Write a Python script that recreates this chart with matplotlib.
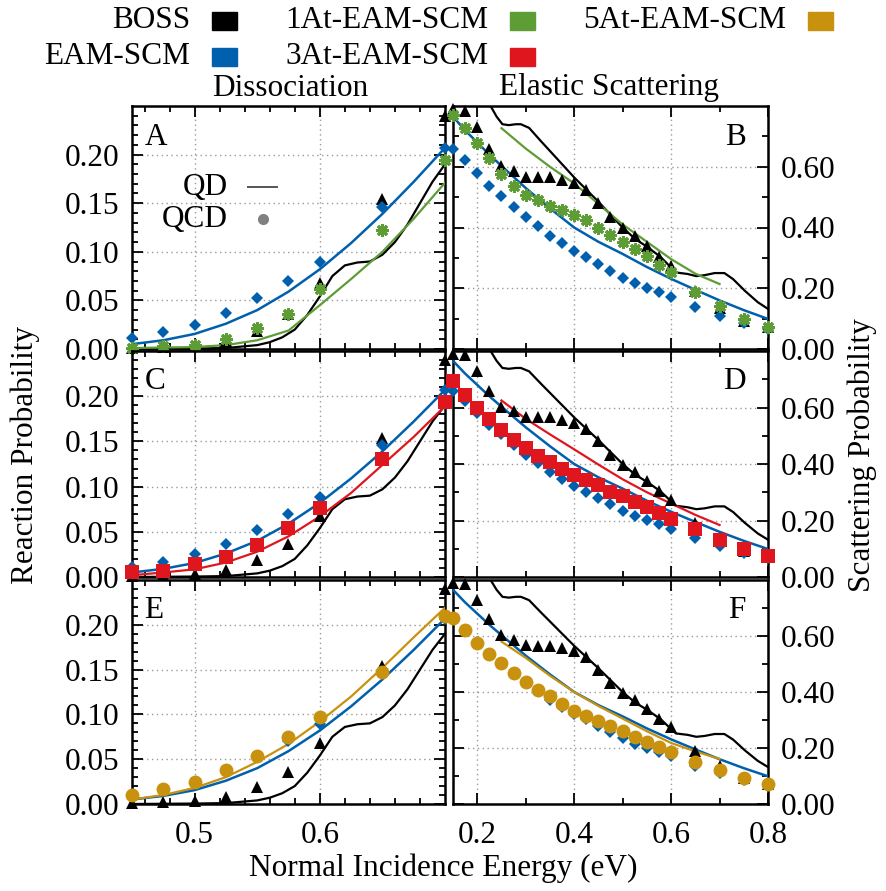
import matplotlib
matplotlib.use('Agg')
import matplotlib.pyplot as plt
from matplotlib.patches import Rectangle
from matplotlib.lines import Line2D

plt.rcParams['font.family'] = ['Liberation Serif', 'DejaVu Serif']
plt.rcParams['font.size'] = 22.5
plt.rcParams['mathtext.fontset'] = 'stix'

# ---------------- data ----------------
# dissociation (left column), QCD points
E_diss = [0.45, 0.475, 0.5, 0.525, 0.55, 0.575, 0.6, 0.65, 0.7]
boss_diss_qcd = [0.001, 0.002, 0.003, 0.008, 0.019, 0.036, 0.068, 0.154, 0.240]
eam_diss_qcd = [0.011, 0.017, 0.025, 0.037, 0.052, 0.070, 0.089, 0.146, 0.207]
at1_diss_qcd = [0.001, 0.003, 0.004, 0.010, 0.022, 0.036, 0.062, 0.122, 0.194]
at3_diss_qcd = [0.006, 0.007, 0.014, 0.022, 0.035, 0.054, 0.076, 0.131, 0.194]
at5_diss_qcd = [0.010, 0.017, 0.025, 0.038, 0.054, 0.075, 0.097, 0.147, 0.210]

# dissociation, QD curves
E_diss_qd = [0.45, 0.475, 0.5, 0.525, 0.55, 0.575, 0.6, 0.625, 0.65, 0.675, 0.7]
eam_diss_qd = [0.005, 0.009, 0.0155, 0.026, 0.040, 0.059, 0.082, 0.109, 0.139, 0.172, 0.207]
at1_diss_qd = [0.001, 0.0015, 0.002, 0.004, 0.009, 0.019, 0.045, 0.072, 0.100, 0.134, 0.171]
at3_diss_qd = [0.002, 0.005, 0.0085, 0.016, 0.028, 0.045, 0.067, 0.093, 0.124, 0.155, 0.189]
at5_diss_qd = [0.005, 0.010, 0.018, 0.030, 0.047, 0.067, 0.092, 0.120, 0.152, 0.186, 0.219]
E_boss_diss_qd = [0.45, 0.5, 0.525, 0.55, 0.56, 0.57, 0.58, 0.59, 0.6, 0.61, 0.62,
                  0.63, 0.64, 0.65, 0.66, 0.67, 0.68, 0.69, 0.7]
boss_diss_qd = [0.0, 0.0005, 0.001, 0.004, 0.007, 0.012, 0.020, 0.035, 0.054, 0.075, 0.086,
                0.089, 0.090, 0.097, 0.110, 0.128, 0.150, 0.172, 0.190]

# elastic scattering (right column), QCD points
E_scat = [0.15, 0.175, 0.2, 0.225, 0.25, 0.275, 0.3, 0.325, 0.35, 0.375, 0.4, 0.425,
          0.45, 0.475, 0.5, 0.525, 0.55, 0.575, 0.6, 0.65, 0.7, 0.75, 0.8]
boss_scat_qcd = [0.79, 0.785, 0.73, 0.66, 0.603, 0.587, 0.567, 0.565, 0.565, 0.556, 0.545, 0.524,
                 0.48, 0.433, 0.397, 0.371, 0.34, 0.304, 0.274, 0.19, 0.135, 0.092, 0.072]
eam_scat_qcd = [0.66, 0.623, 0.579, 0.537, 0.505, 0.466, 0.433, 0.404, 0.373, 0.348, 0.321, 0.302,
                0.28, 0.258, 0.234, 0.216, 0.201, 0.187, 0.17, 0.137, 0.11, 0.086, 0.066]
at1_scat_qcd = [0.77, 0.726, 0.677, 0.628, 0.576, 0.537, 0.508, 0.49, 0.472, 0.459, 0.441, 0.425,
                0.398, 0.376, 0.351, 0.329, 0.307, 0.276, 0.252, 0.189, 0.143, 0.099, 0.071]
at3_scat_qcd = [0.693, 0.645, 0.599, 0.56, 0.519, 0.484, 0.457, 0.428, 0.407, 0.383, 0.36, 0.342,
                0.325, 0.301, 0.287, 0.267, 0.248, 0.226, 0.207, 0.169, 0.13, 0.099, 0.073]
at5_scat_qcd = [0.664, 0.623, 0.576, 0.537, 0.502, 0.467, 0.437, 0.406, 0.386, 0.356, 0.333, 0.315,
                0.297, 0.279, 0.259, 0.24, 0.222, 0.203, 0.184, 0.151, 0.12, 0.092, 0.073]

# elastic scattering, QD curves
E_scat_qd = [0.15, 0.175, 0.2, 0.225, 0.25, 0.3, 0.35, 0.4, 0.45, 0.5, 0.55, 0.6, 0.65, 0.7, 0.75, 0.8]
eam_scat_qd = [0.765, 0.72, 0.68, 0.64, 0.603, 0.53, 0.463, 0.40, 0.353, 0.313, 0.27, 0.231,
               0.195, 0.16, 0.128, 0.099]
E_at_scat_qd = [0.25, 0.3, 0.35, 0.4, 0.45, 0.5, 0.55, 0.6, 0.65, 0.7]
at1_scat_qd = [0.727, 0.66, 0.60, 0.545, 0.478, 0.41, 0.353, 0.296, 0.248, 0.214]
at3_scat_qd = [0.625, 0.56, 0.505, 0.452, 0.398, 0.346, 0.30, 0.26, 0.22, 0.184]
at5_scat_qd = [0.58, 0.522, 0.458, 0.40, 0.35, 0.305, 0.26, 0.218, 0.188, 0.161]
E_boss_scat_qd = [0.2, 0.2276, 0.24, 0.252, 0.265, 0.28, 0.29, 0.307, 0.331, 0.35, 0.4, 0.45,
                  0.5, 0.526, 0.552, 0.579, 0.6, 0.61, 0.634, 0.652, 0.669, 0.69, 0.71, 0.728,
                  0.752, 0.779, 0.8]
boss_scat_qd = [0.88, 0.80, 0.765, 0.74, 0.737, 0.74, 0.74, 0.728, 0.685, 0.652, 0.565, 0.485,
                0.40, 0.362, 0.335, 0.302, 0.268, 0.252, 0.247, 0.24, 0.243, 0.25, 0.25, 0.23,
                0.192, 0.154, 0.132]

C_BOSS = '#000000'
C_EAM = '#0060ad'
C_AT1 = '#5e9c36'
C_AT3 = '#e0161f'
C_AT5 = '#c9920e'

styles = {
    'boss': dict(color=C_BOSS, marker='^', ms=8.5, mew=0),
    'eam': dict(color=C_EAM, marker='D', ms=6.5, mew=0),
    'at1': dict(color=C_AT1, marker=(8, 2, 0), ms=9, mew=2.2),
    'at3': dict(color=C_AT3, marker='s', ms=9.5, mew=0),
    'at5': dict(color=C_AT5, marker='o', ms=10, mew=0),
}

W, H = 887, 891


def rect(x0, x1, y0, y1):
    return [x0 / W, 1 - y1 / H, (x1 - x0) / W, (y1 - y0) / H]


fig = plt.figure(figsize=(W / 100, H / 100), dpi=100)

cols = [(132, 445), (453, 768)]
rows = [(106, 349), (351, 577), (580, 804)]
extra = ['at1', 'at3', 'at5']
letters = [['A', 'B'], ['C', 'D'], ['E', 'F']]

diss_qcd = {'boss': boss_diss_qcd, 'eam': eam_diss_qcd, 'at1': at1_diss_qcd,
            'at3': at3_diss_qcd, 'at5': at5_diss_qcd}
diss_qd = {'eam': eam_diss_qd, 'at1': at1_diss_qd, 'at3': at3_diss_qd, 'at5': at5_diss_qd}
scat_qcd = {'boss': boss_scat_qcd, 'eam': eam_scat_qcd, 'at1': at1_scat_qcd,
            'at3': at3_scat_qcd, 'at5': at5_scat_qcd}
scat_qd = {'eam': eam_scat_qd, 'at1': at1_scat_qd, 'at3': at3_scat_qd, 'at5': at5_scat_qd}


def style_axes(ax, right, bottom):
    ax.tick_params(which='both', direction='in', top=True, right=True, width=1.3)
    ax.tick_params(which='major', length=8)
    ax.tick_params(which='minor', length=4.5)
    ax.tick_params(axis='y', labelleft=not right, labelright=right, pad=9)
    ax.tick_params(axis='x', labelbottom=bottom, pad=12)
    ax.grid(True, which='major', ls=(0, (1, 2.5)), color='#9a9a9a', lw=1.0)
    for s in ax.spines.values():
        s.set_linewidth(1.8)
    ax.set_facecolor('none')


for r, (y0, y1) in enumerate(rows):
    key = extra[r]
    # left: dissociation
    ax = fig.add_axes(rect(cols[0][0], cols[0][1], y0, y1))
    ax.set_xlim(0.45, 0.70)
    ax.set_ylim(0, 0.25)
    ax.set_xticks([0.5, 0.6])
    ax.set_xticks([0.46, 0.48, 0.52, 0.54, 0.56, 0.58, 0.62, 0.64, 0.66, 0.68], minor=True)
    ax.set_yticks([0.0, 0.05, 0.10, 0.15, 0.20])
    ax.set_yticks([0.01, 0.02, 0.03, 0.04, 0.06, 0.07, 0.08, 0.09, 0.11, 0.12, 0.13, 0.14,
                   0.16, 0.17, 0.18, 0.19, 0.21, 0.22, 0.23, 0.24], minor=True)
    ax.set_yticklabels(['0.00', '0.05', '0.10', '0.15', '0.20'])
    ax.set_xticklabels(['0.5', '0.6'])
    style_axes(ax, right=False, bottom=(r == 2))
    ax.plot(E_boss_diss_qd, boss_diss_qd, color=C_BOSS, lw=1.6, zorder=3)
    ax.plot(E_diss_qd, diss_qd['eam'], color=C_EAM, lw=1.8, zorder=3)
    ax.plot(E_diss_qd, diss_qd[key], color=styles[key]['color'], lw=1.6, zorder=3)
    for k in ['boss', 'eam', key]:
        st = styles[k]
        ax.plot(E_diss, diss_qcd[k], ls='none', marker=st['marker'], ms=st['ms'],
                mew=st['mew'], color=st['color'], mec=st['color'], clip_on=False, zorder=5)
    ax.text(0.04, 0.93, letters[r][0], transform=ax.transAxes, ha='left', va='top')

    # right: elastic scattering
    ax = fig.add_axes(rect(cols[1][0], cols[1][1], y0, y1))
    ax.set_xlim(0.15, 0.80)
    ax.set_ylim(0, 0.80)
    ax.set_xticks([0.2, 0.4, 0.6, 0.8])
    ax.set_xticks([0.3, 0.5, 0.7], minor=True)
    ax.set_yticks([0.0, 0.2, 0.4, 0.6])
    ax.set_yticks([0.1, 0.3, 0.5, 0.7], minor=True)
    ax.set_yticklabels(['0.00', '0.20', '0.40', '0.60'])
    ax.set_xticklabels(['0.2', '0.4', '0.6', '0.8'])
    style_axes(ax, right=True, bottom=(r == 2))
    ax.plot(E_boss_scat_qd, boss_scat_qd, color=C_BOSS, lw=1.6, zorder=3)
    ax.plot(E_scat_qd, scat_qd['eam'], color=C_EAM, lw=1.8, zorder=3)
    ax.plot(E_at_scat_qd, scat_qd[key], color=styles[key]['color'], lw=1.6, zorder=3)
    for k in ['boss', 'eam', key]:
        st = styles[k]
        ax.plot(E_scat, scat_qcd[k], ls='none', marker=st['marker'], ms=st['ms'],
                mew=st['mew'], color=st['color'], mec=st['color'], clip_on=False, zorder=5)
    ax.text(0.93, 0.93, letters[r][1], transform=ax.transAxes, ha='right', va='top')

# QD / QCD key in panel A
fig.text(228 / W, 1 - 187 / H, 'QD', ha='right', va='center')
fig.add_artist(Line2D([248 / W, 277 / W], [1 - 187 / H, 1 - 187 / H], color='#555555', lw=1.4))
fig.text(228 / W, 1 - 219 / H, 'QCD', ha='right', va='center')
fig.add_artist(Line2D([263 / W], [1 - 219 / H], marker='o', ms=8, color='#808080', mew=0))

# top legend
legend_items = [('BOSS', C_BOSS, 190, 21), ('EAM-SCM', C_EAM, 190, 57),
                ('1At-EAM-SCM', C_AT1, 488, 21), ('3At-EAM-SCM', C_AT3, 488, 57),
                ('5At-EAM-SCM', C_AT5, 786, 21)]
for label, c, xr, yc in legend_items:
    fig.text(xr / W, 1 - yc / H, label, ha='right', va='center')
    fig.add_artist(Rectangle(((xr + 22) / W, 1 - (yc + 8.5) / H), 25 / W, 17 / H,
                             color=c, transform=fig.transFigure))

fig.text(290 / W, 1 - 88 / H, 'Dissociation', ha='center', va='center')
fig.text(609 / W, 1 - 88 / H, 'Elastic Scattering', ha='center', va='center')
fig.text(443 / W, 1 - 868 / H, 'Normal Incidence Energy (eV)', ha='center', va='center')
fig.text(25 / W, 1 - 455 / H, 'Reaction Probability', rotation=90, ha='center', va='center')
fig.text(862 / W, 1 - 455 / H, 'Scattering Probability', rotation=90, ha='center', va='center')

fig.savefig('out.png', dpi=100)
